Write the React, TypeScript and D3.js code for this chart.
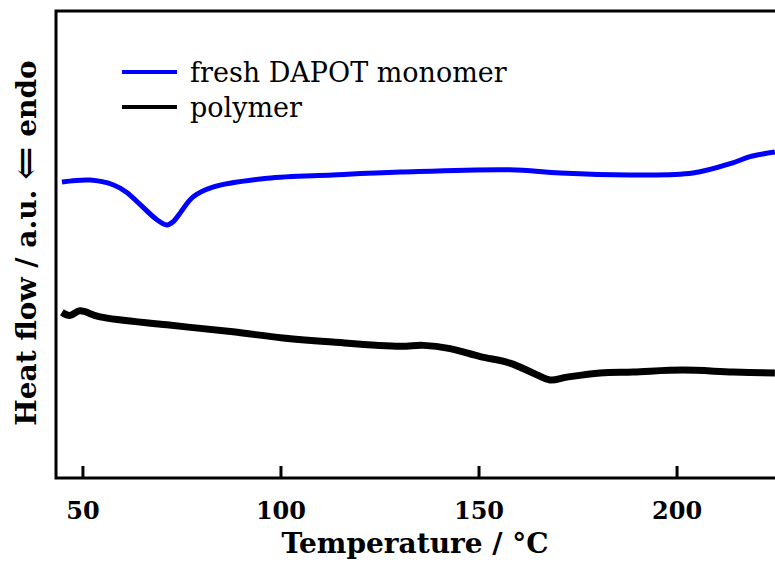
import React from "react";
import * as d3 from "d3";

// DSC traces: temperature (°C) vs. heat flow (arbitrary units)
const monomerTemp = [44.7, 51.8, 57.6, 61.0, 64.4, 68.7, 71.2, 72.7, 74.5, 77.8, 82.8, 96.5, 113.1, 130.1, 157.8, 170.5, 188.1, 204.0, 214.1, 218.4, 224.7];
const monomerFlow = [6.34, 6.38, 6.28, 6.12, 5.86, 5.53, 5.42, 5.48, 5.67, 6.02, 6.23, 6.42, 6.49, 6.55, 6.6, 6.53, 6.49, 6.53, 6.75, 6.88, 6.98];

const polymerTemp = [44.7, 46.7, 49.2, 54.3, 71.2, 87.9, 100.5, 113.1, 130.1, 136.0, 142.7, 150.3, 157.8, 163.6, 167.9, 172.2, 180.6, 188.9, 201.5, 214.1, 224.7];
const polymerFlow = [3.55, 3.48, 3.58, 3.45, 3.28, 3.13, 3.0, 2.91, 2.82, 2.84, 2.77, 2.6, 2.46, 2.25, 2.1, 2.16, 2.25, 2.27, 2.31, 2.27, 2.25];

const xTicks = [50, 100, 150, 200];
const seriesNames = ["fresh DAPOT monomer", "polymer"];
const seriesColors = ["#0000ff", "#000000"];

const W = 775;
const H = 562;
const left = 56;
const top = 11;
const bottom = 478;
const right = 784;

export default function App() {
  const x = d3.scaleLinear().domain([43.2, 227]).range([left, right]);
  const y = d3.scaleLinear().domain([0, 10]).range([bottom, top]);

  const line = d3
    .line<[number, number]>()
    .x((d) => x(d[0]))
    .y((d) => y(d[1]))
    .curve(d3.curveCatmullRom.alpha(0.5));

  const monomer = monomerTemp.map((t, i) => [t, monomerFlow[i]] as [number, number]);
  const polymer = polymerTemp.map((t, i) => [t, polymerFlow[i]] as [number, number]);

  const bold = { fontFamily: "'DejaVu Serif', serif", fontWeight: 700 } as const;

  return (
    <div style={{ position: "absolute", left: 0, top: 0 }}>
      <svg width={W} height={H} style={{ display: "block", background: "#fff" }}>
        <defs>
          <clipPath id="plot-clip">
            <rect x={left} y={top} width={right - left} height={bottom - top} />
          </clipPath>
        </defs>

        <g clipPath="url(#plot-clip)">
          <path d={line(monomer) ?? ""} fill="none" stroke={seriesColors[0]} strokeWidth={5} strokeLinejoin="round" />
          <path d={line(polymer) ?? ""} fill="none" stroke={seriesColors[1]} strokeWidth={7} strokeLinejoin="round" />
        </g>

        {/* frame */}
        <rect x={left} y={top} width={right - left} height={bottom - top} fill="none" stroke="#000" strokeWidth={3} />

        {/* bottom ticks, pointing inward */}
        {xTicks.map((t) => (
          <g key={t}>
            <line x1={x(t)} x2={x(t)} y1={bottom} y2={bottom - 12} stroke="#000" strokeWidth={3} />
            <text x={x(t)} y={519} textAnchor="middle" fontSize={24} {...bold}>
              {t}
            </text>
          </g>
        ))}

        <text x={415} y={553} textAnchor="middle" fontSize={28} {...bold}>
          Temperature / °C
        </text>

        <text transform={`translate(36, 243) rotate(-90)`} textAnchor="middle" fontSize={28} {...bold}>
          Heat flow / a.u.{" "}
          <tspan fontSize={40} fontWeight={400} dy={3}>
            ⇐
          </tspan>
          <tspan dy={-3}> endo</tspan>
        </text>

        {/* legend */}
        {seriesNames.map((name, i) => (
          <g key={name} transform={`translate(0, ${72 + i * 35})`}>
            <line x1={122} x2={177} y1={0} y2={0} stroke={seriesColors[i]} strokeWidth={4} />
            <text x={190} y={10} fontSize={27} fontFamily="'DejaVu Serif', serif">
              {name}
            </text>
          </g>
        ))}
      </svg>
    </div>
  );
}
